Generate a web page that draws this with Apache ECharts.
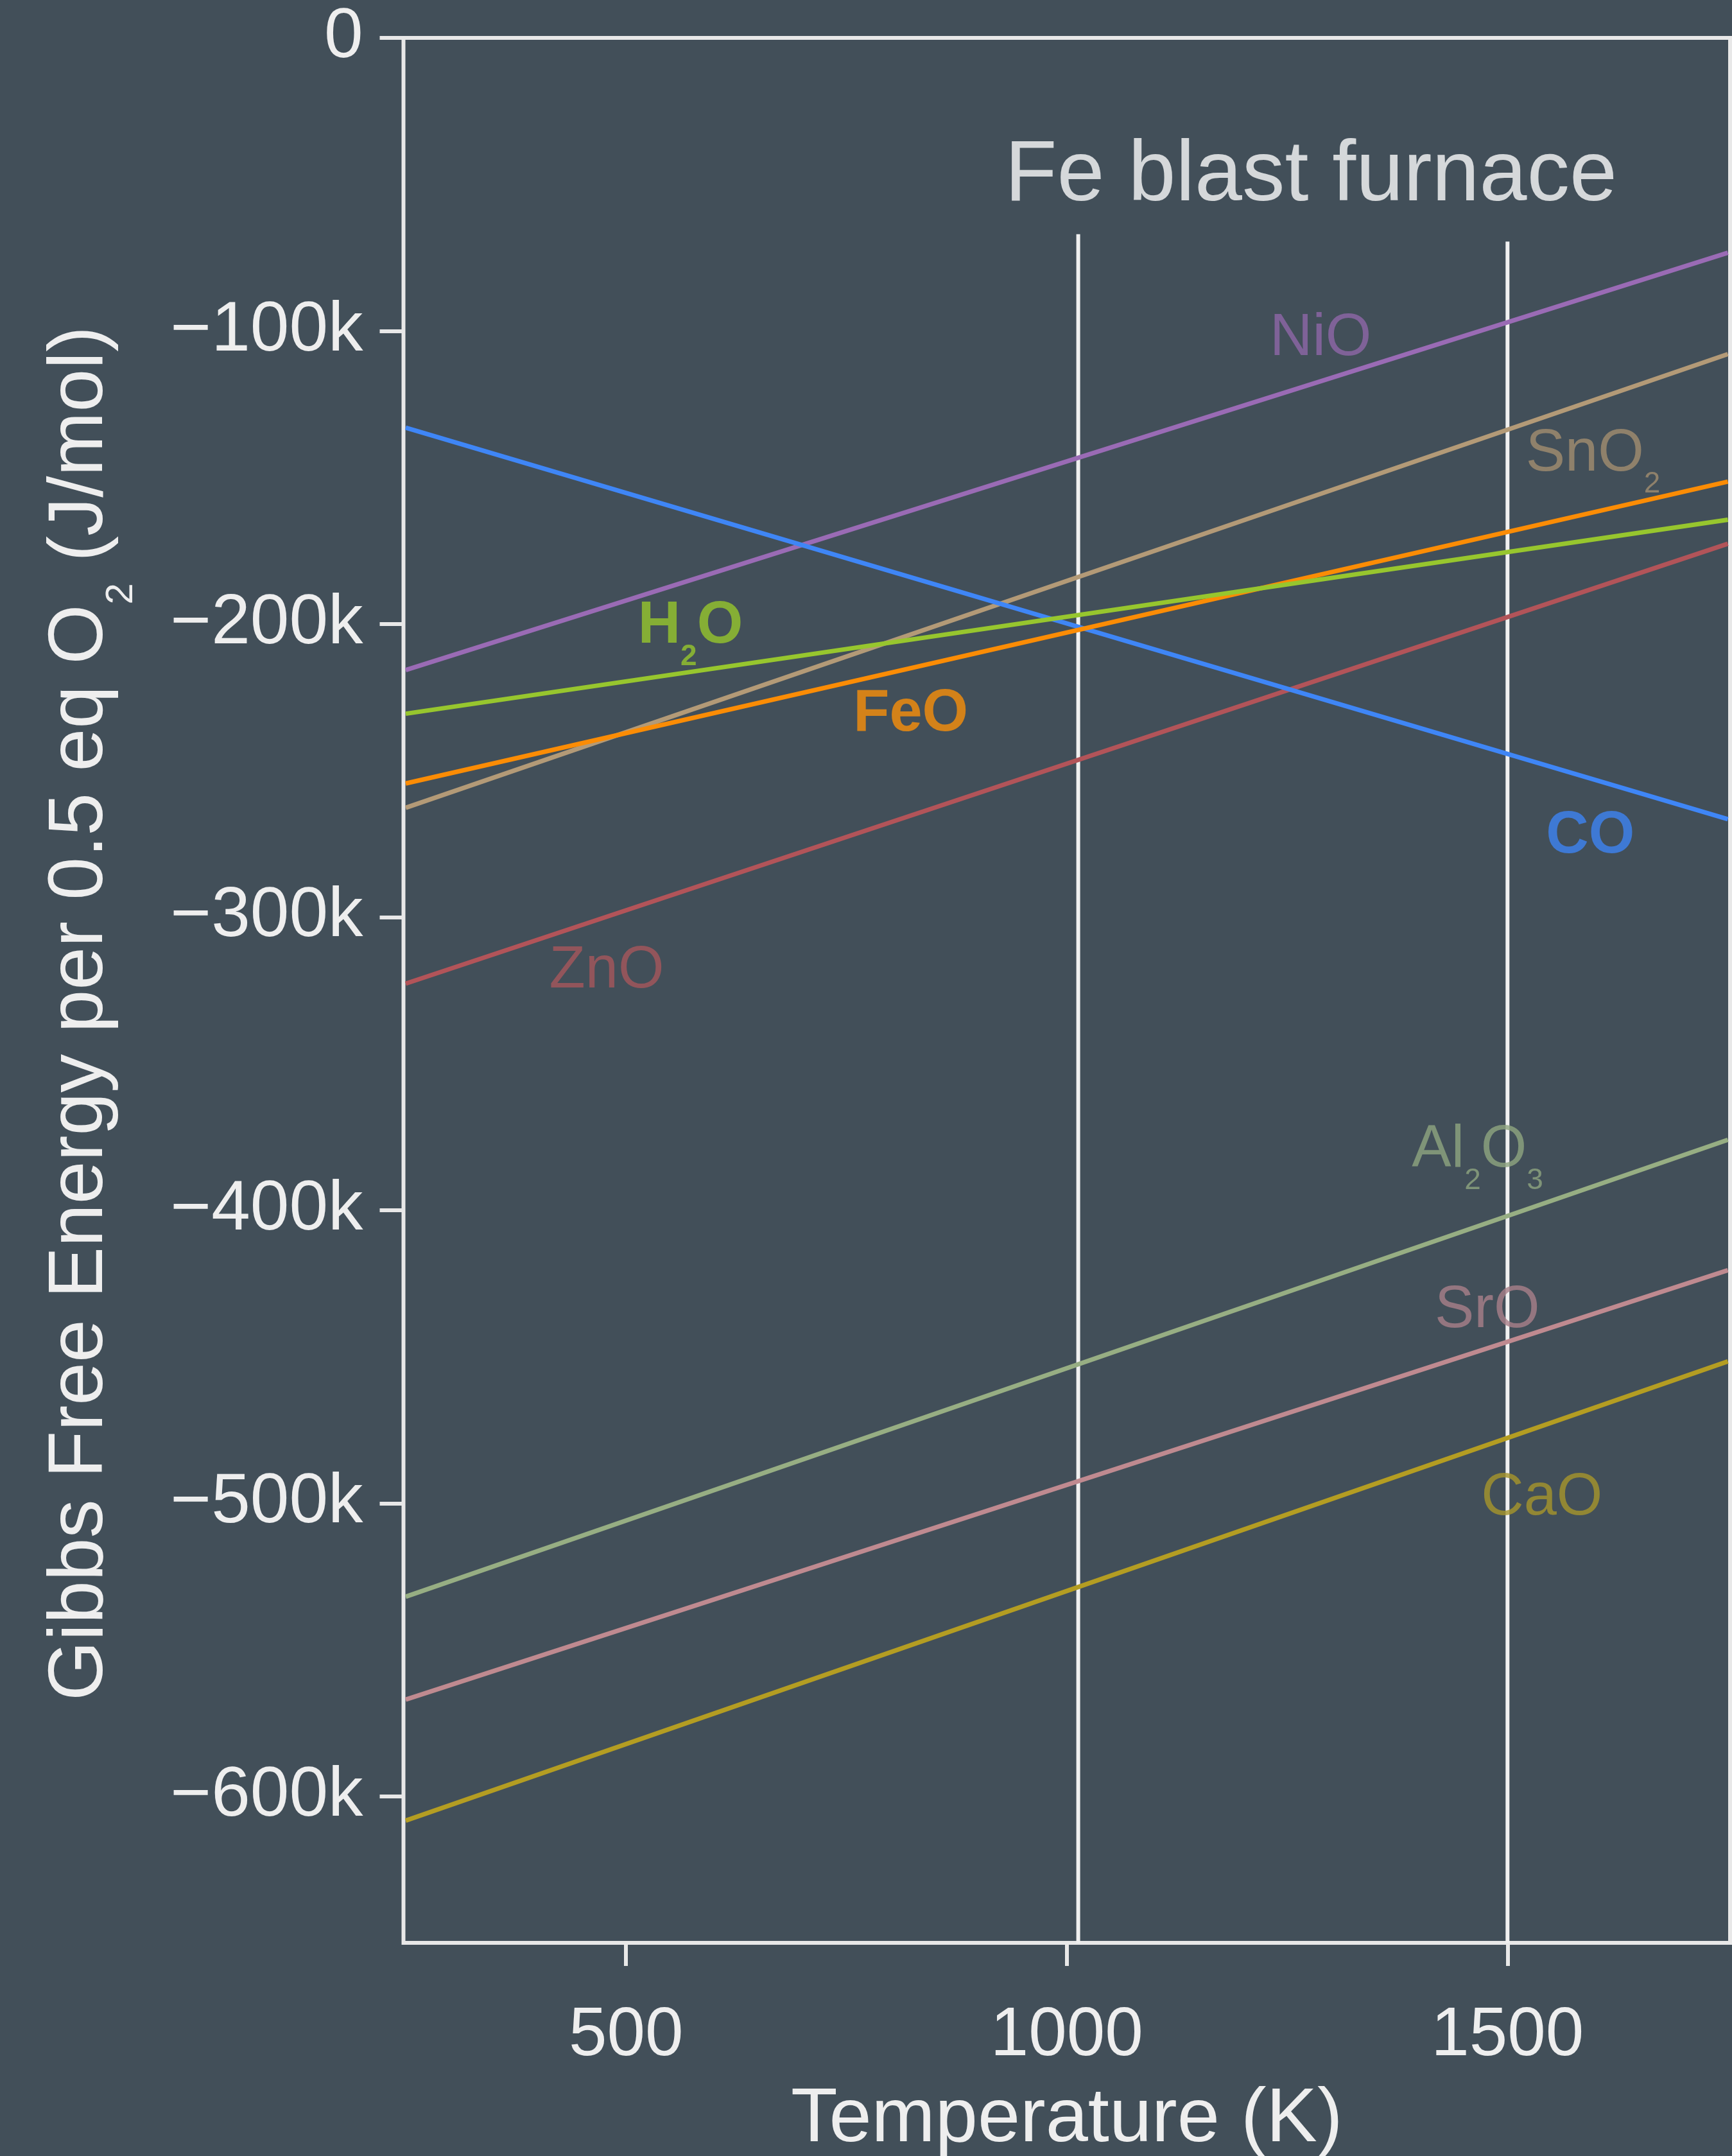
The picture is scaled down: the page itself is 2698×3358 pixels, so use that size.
<!DOCTYPE html>
<html><head><meta charset="utf-8">
<script src="https://cdn.jsdelivr.net/npm/echarts@6/dist/echarts.min.js"></script>
<style>html,body{margin:0;padding:0;background:#424f59;}#c{width:2698px;height:3358px;}</style>
</head><body><div id="c"></div>
<script>
// ---- data ----
const tempEnds = [250, 1750];           // K, line end points
const NiO   = [-215700, -73300];
const SnO2  = [-262700, -107900];
const FeO   = [-254400, -151400];
const H2O   = [-230600, -164400];
const CO    = [-133000, -266600];
const ZnO   = [-322700, -172600];
const Al2O3 = [-531900, -376000];
const SrO   = [-567000, -420500];
const CaO   = [-608300, -451600];

const xTicks = [500, 1000, 1500];
const yTicks = [0, -100000, -200000, -300000, -400000, -500000, -600000];

const blastT   = [1013, 1500];
const blastTop = [-67000, -69500];
const blastBottom = -650000;

const labelNames = ['NiO', 'SnO2', 'H2O', 'FeO', 'CO', 'ZnO', 'Al2O3', 'SrO', 'CaO'];
const labelT = [1288, 1597, 573, 823, 1594, 478, 1466, 1477, 1539];
const labelG = [-101000, -140300, -199100, -229000, -270700, -316700, -377900, -432700, -496500];
const titleText = 'Fe blast furnace';
const titlePos = [1277, -47500];

// ---- styles ----
const FONT = '"Liberation Sans", Arial, Helvetica, sans-serif';
const lineColors = {
  NiO: '#9a6bb5', SnO2: '#b39a77', FeO: '#fb8c05', H2O: '#97c62e', CO: '#3f86f6',
  ZnO: '#b25459', Al2O3: '#97ae83', SrO: '#bf8a90', CaO: '#b49d22'
};
const labelColors = {
  NiO: '#8f66a8', SnO2: '#a38d6f', FeO: '#f98e09', H2O: '#96c62c', CO: '#3d83f3',
  ZnO: '#a6565b', Al2O3: '#8fa57f', SrO: '#a9808a', CaO: '#a6952a'
};
const boldSet = {H2O: true, FeO: true, CO: true};
const seriesData = {NiO, SnO2, FeO, H2O, CO, ZnO, Al2O3, SrO, CaO};
const drawOrder = ['CaO', 'SrO', 'Al2O3', 'ZnO', 'SnO2', 'NiO', 'CO', 'FeO', 'H2O'];

function richFormula(name) {
  return name.replace(/([A-Za-z]+)|(\d+)/g, (m, a, d) => a ? '{m|' + a + '}' : '{s|' + d + '}');
}

const LF = 92;
const series = [];

// vertical blast-furnace lines
blastT.forEach((t, i) => {
  series.push({
    type: 'line', silent: true, showSymbol: false, symbol: 'none', z: 2,
    data: [[t, blastBottom], [t, blastTop[i]]],
    lineStyle: {color: '#f0f0f0', width: 6}
  });
});

drawOrder.forEach(name => {
  const v = seriesData[name];
  series.push({
    type: 'line', name: name, silent: true, showSymbol: false, symbol: 'none', z: 3,
    data: tempEnds.map((t, j) => [t, v[j]]),
    lineStyle: {color: lineColors[name], width: 7}
  });
});

const labelItems = labelNames.map((n, i) => {
  const c = labelColors[n];
  const w = boldSet[n] ? 'bold' : 'normal';
  return {
    value: [labelT[i], labelG[i]],
    label: {
      show: true, position: 'inside', offset: [0, 8], formatter: richFormula(n),
      rich: {
        m: {fontFamily: FONT, fontSize: LF, fontWeight: w, color: c, lineHeight: 144, verticalAlign: 'middle'},
        s: {fontFamily: FONT, fontSize: LF * 0.5, fontWeight: w, color: c, lineHeight: LF * 0.5, padding: [94, 0, 0, 0], verticalAlign: 'middle'}
      }
    }
  };
});
labelItems.push({
  value: titlePos,
  label: {show: true, position: 'inside', formatter: titleText,
    fontFamily: FONT, fontSize: 133, color: '#fafafa', lineHeight: 133}
});
series.push({
  type: 'scatter', silent: true, symbolSize: 0, z: 10, data: labelItems
});

const axisColor = '#e8e8e8';
const chart = echarts.init(document.getElementById('c'), null, {renderer: 'canvas'});
chart.setOption({
  backgroundColor: '#424f59',
  animation: false,
  grid: {left: 628.5, right: 3, top: 59, bottom: 332, show: true, borderColor: axisColor, borderWidth: 6,
    backgroundColor: 'transparent', containLabel: false, outerBoundsMode: 'none'},
  xAxis: {
    type: 'value', min: 247.5, max: 1752.5,
    name: 'Temperature (K)', nameLocation: 'middle', nameGap: 217,
    nameTextStyle: {fontFamily: FONT, fontSize: 119, color: '#eeeeee', lineHeight: 119},
    axisLine: {show: false, onZero: false},
    splitLine: {show: false},
    axisTick: {show: true, customValues: xTicks, length: 36, inside: false, lineStyle: {color: axisColor, width: 6}},
    axisLabel: {customValues: xTicks, margin: 92, fontFamily: FONT, fontSize: 107, lineHeight: 107, color: '#eeeeee',
      formatter: v => String(v)}
  },
  yAxis: {
    type: 'value', min: -650000, max: 0,
    name: '{m|Gibbs Free Energy per 0.5 eq O}{s|2}{m| (J/mol)}', nameLocation: 'middle', nameGap: 410,
    nameTextStyle: {
      fontFamily: FONT, fontSize: 120, color: '#eeeeee', padding: [0, 72, 0, 0],
      rich: {
        m: {fontFamily: FONT, fontSize: 120, color: '#eeeeee', lineHeight: 186, verticalAlign: 'middle'},
        s: {fontFamily: FONT, fontSize: 60, color: '#eeeeee', lineHeight: 60, padding: [127, 0, 0, 0], verticalAlign: 'middle'}
      }
    },
    axisLine: {show: false, onZero: false},
    splitLine: {show: false},
    axisTick: {show: true, customValues: yTicks, length: 37, inside: false, lineStyle: {color: axisColor, width: 6}},
    axisLabel: {
      customValues: yTicks, margin: 63, fontFamily: FONT, fontSize: 109, color: '#eeeeee', padding: [12, 0, 0, 0],
      formatter: v => v === 0 ? '0' : (v < 0 ? '\u2212' : '') + Math.abs(v / 1000) + 'k'
    }
  },
  series: series
});
</script></body></html>
